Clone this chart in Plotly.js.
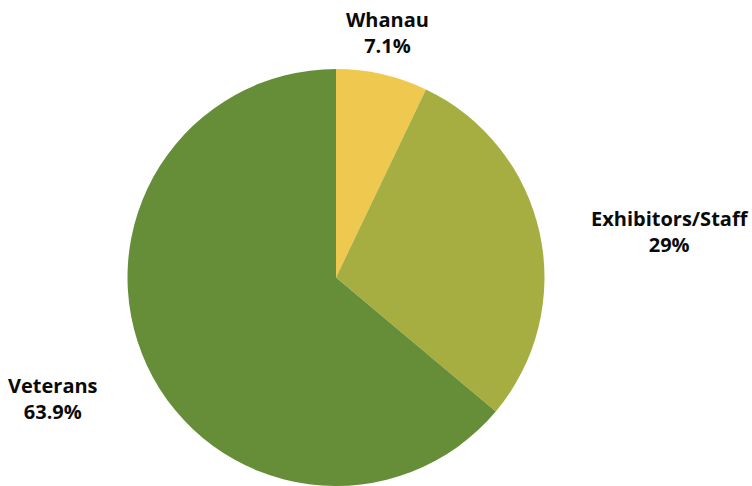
<!DOCTYPE html>
<html>
<head>
<meta charset="utf-8">
<script src="https://cdn.plot.ly/plotly-3.0.1.min.js"></script>
<style>html,body{margin:0;padding:0;background:#fff;}#chart{width:752px;height:486px;}</style>
</head>
<body>
<div id="chart"></div>
<script>
const categories = ["Whanau", "Exhibitors/Staff", "Veterans"];
const shares = [7.1, 29, 63.9];
const colors = ["#EFC94F", "#A7AE41", "#668E39"];
// label anchor positions (paper coords), layout only
const labelX = [0.515, 0.891, 0.0705];
const labelY = [0.934, 0.523, 0.181];

const trace = {
  type: "pie",
  labels: categories,
  values: shares,
  sort: false,
  direction: "clockwise",
  rotation: 0,
  marker: {colors: colors, line: {width: 0}},
  textinfo: "none",
  hoverinfo: "none",
  showlegend: false,
  domain: {x: [0.1689, 0.7247], y: [0, 0.858]}
};

const annotations = categories.map((c, i) => ({
  xref: "paper", yref: "paper",
  x: labelX[i], y: labelY[i],
  xanchor: "center", yanchor: "middle",
  showarrow: false,
  align: "center",
  text: "<b>" + c + "<br>" + shares[i] + "%</b>",
  font: {family: "Open Sans", size: 20, color: "#0a0a0a"}
}));

Plotly.newPlot("chart", [trace], {
  width: 752, height: 486,
  margin: {l: 0, r: 0, t: 0, b: 0},
  paper_bgcolor: "#fff",
  annotations: annotations,
  showlegend: false
}, {staticPlot: true});
</script>
</body>
</html>
